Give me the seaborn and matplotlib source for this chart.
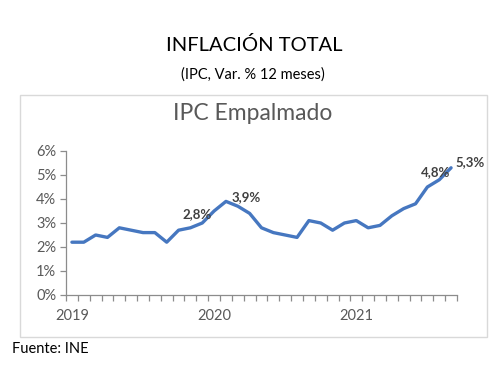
import matplotlib
matplotlib.use("Agg")
import matplotlib.pyplot as plt
import matplotlib.patches as mpatches
from matplotlib.ticker import FixedLocator, FuncFormatter
import seaborn as sns
import pandas as pd

# ---- data ----
months = ["2019-01", "2019-02", "2019-03", "2019-04", "2019-05", "2019-06",
          "2019-07", "2019-08", "2019-09", "2019-10", "2019-11", "2019-12",
          "2020-01", "2020-02", "2020-03", "2020-04", "2020-05", "2020-06",
          "2020-07", "2020-08", "2020-09", "2020-10", "2020-11", "2020-12",
          "2021-01", "2021-02", "2021-03", "2021-04", "2021-05", "2021-06",
          "2021-07", "2021-08", "2021-09"]
ipc = [2.2, 2.2, 2.5, 2.4, 2.8, 2.7, 2.6, 2.6, 2.2, 2.7, 2.8, 3.0,
       3.5, 3.9, 3.7, 3.4, 2.8, 2.6, 2.5, 2.4, 3.1, 3.0, 2.7, 3.0,
       3.1, 2.8, 2.9, 3.3, 3.6, 3.8, 4.5, 4.8, 5.3]
year_labels = ["2019", "2020", "2021"]
yticks = [0, 1, 2, 3, 4, 5, 6]
labeled_months = ["2019-11", "2020-02", "2021-08", "2021-09"]

sns.set_style("white")
plt.rcParams['font.family'] = ['Lato', 'DejaVu Sans']

df = pd.DataFrame({"mes": months, "ipc": ipc})
df["pos"] = range(len(df))

W, H = 498, 370
fig = plt.figure(figsize=(W / 100, H / 100), dpi=100)

# outer frame
fig.patches.append(mpatches.Rectangle((20 / W, 1 - 337 / H), 467 / W, 242 / H,
                                      transform=fig.transFigure, fill=False,
                                      edgecolor="#d9d9d9", linewidth=1.0))

ax = fig.add_axes([66 / W, 1 - 295 / H, 391 / W, 144 / H])
sns.lineplot(data=df, x="pos", y="ipc", ax=ax, color="#4677c0", linewidth=2.4)

ax.set_xlim(-0.5, len(months) - 0.5)
ax.set_ylim(0, 6)
ax.set_xlabel("")
ax.set_ylabel("")

for s in ["top", "right"]:
    ax.spines[s].set_visible(False)
for s in ["left", "bottom"]:
    ax.spines[s].set_color("#8c8c8c")
    ax.spines[s].set_linewidth(0.9)

ax.yaxis.set_major_locator(FixedLocator(yticks))
ax.yaxis.set_major_formatter(FuncFormatter(lambda v, p: f"{int(v)}%"))
ax.tick_params(axis="y", direction="out", length=4, width=0.9, color="#8c8c8c",
               labelsize=10.5, labelcolor="#595959", pad=3, left=True)

year_pos = [months.index(y + "-01") for y in year_labels]
ax.xaxis.set_major_locator(FixedLocator(year_pos))
ax.set_xticklabels(year_labels)
ax.xaxis.set_minor_locator(FixedLocator([i - 0.5 for i in range(len(months) + 1)]))
ax.tick_params(axis="x", which="major", length=0, labelsize=10.5,
               labelcolor="#595959", pad=10)
ax.tick_params(axis="x", which="minor", direction="out", length=4, width=0.9,
               color="#8c8c8c", bottom=True)

# data labels
offsets = {"2019-11": (7, 14, "center"), "2020-02": (6, 4, "left"),
           "2021-08": (-4, 8, "center"), "2021-09": (4, 6, "left")}
for m in labeled_months:
    i = months.index(m)
    v = ipc[i]
    dx, dy, ha = offsets[m]
    ax.annotate(f"{v:.1f}%".replace(".", ","), (i, v), xytext=(dx * 0.72, dy * 0.72),
                textcoords="offset points", ha=ha, va="center",
                fontsize=9.5, fontweight="bold", color="#404040")

fig.text(254 / W, 1 - 45 / H, "INFLACIÓN TOTAL", ha="center", va="center",
         fontsize=14.5, color="black")
fig.text(253 / W, 1 - 75 / H, "(IPC, Var. % 12 meses)", ha="center", va="center",
         fontsize=10.5, color="black")
fig.text(253 / W, 1 - 114 / H, "IPC Empalmado", ha="center", va="center",
         fontsize=16.5, color="#595959")
fig.text(12 / W, 1 - 349 / H, "Fuente: INE", ha="left", va="center",
         fontsize=10.5, color="black")

fig.savefig("out.png", dpi=100)
